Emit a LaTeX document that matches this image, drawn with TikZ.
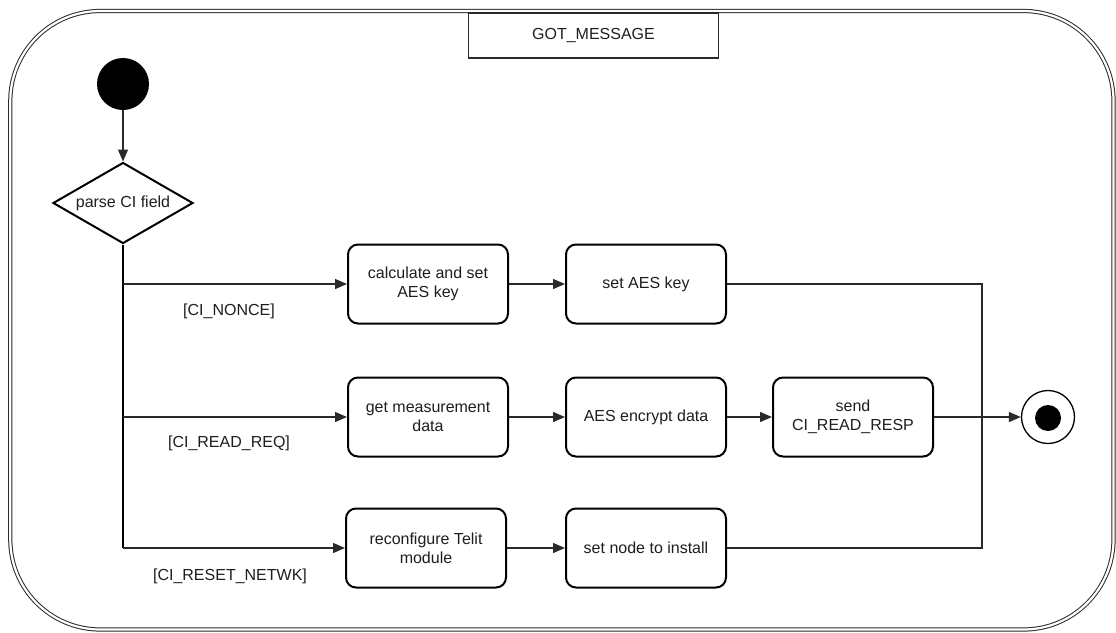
\documentclass[tikz,border=0pt]{standalone}
\usepackage{fontspec}
\setmainfont{Liberation Sans}
\usetikzlibrary{shapes.geometric,arrows.meta}

\definecolor{ink}{HTML}{1E1E1E}
\definecolor{edge}{HTML}{2A2A2A}

\tikzset{
  txt/.style={font=\fontsize{16}{19}\selectfont, text=ink},
  action/.style={txt, draw=black, line width=2pt, rounded corners=10pt,
    minimum width=160pt, minimum height=79pt, align=center, inner sep=2pt},
  decision/.style={txt, draw=black, line width=2pt, diamond, aspect=1.73,
    minimum width=140pt, minimum height=81pt, inner sep=0pt},
  flow/.style={draw=edge, line width=1.3pt,
    -{Triangle[length=12pt,width=10pt]}},
  link/.style={draw=edge, line width=1.3pt},
  trunk/.style={draw=black, line width=2pt},
  guard/.style={txt},
}

\begin{document}
\begin{tikzpicture}[x=1pt,y=-1pt]
  \useasboundingbox (0,0) rectangle (1116,632);

  % composite state frame
  \draw[draw=edge, line width=1pt, double=white, double distance=2.2pt,
        rounded corners=90pt] (10.3,11) rectangle (1113.5,629.5);
  \node[txt, draw=edge, line width=1.3pt, minimum width=250pt,
        minimum height=45pt, inner sep=0pt] (title) at (593.5,35.5) {GOT\_MESSAGE};

  % initial and final pseudostates
  \node[circle, fill=black, minimum size=52pt, inner sep=0pt] (init) at (123,84) {};
  \node[circle, draw=black, line width=1.3pt, minimum size=53pt, inner sep=0pt]
        (final) at (1048,417) {};
  \node[circle, fill=black, minimum size=26pt, inner sep=0pt] (finaldot) at (1048,418) {};

  % decision
  \node[decision] (parse) at (123,203) {parse CI field};

  % actions
  \node[action] (calc)   at (428,284) {calculate and set\\AES key};
  \node[action] (setkey) at (646,284) {set AES key};
  \node[action] (meas)   at (428,417) {get measurement\\data};
  \node[action] (enc)    at (646,417) {AES encrypt data};
  \node[action] (send)   at (853,417) {send\\CI\_READ\_RESP};
  \node[action] (reconf) at (426,548) {reconfigure Telit\\module};
  \node[action] (inst)   at (646,548) {set node to install};

  % branch points on the trunk and the merge line
  \coordinate (bNonce) at (123,284);
  \coordinate (bRead)  at (123,417);
  \coordinate (bReset) at (123,548);
  \coordinate (mTop)   at (982,284);
  \coordinate (mBot)   at (982,548);

  % control flow
  \draw[flow] (init) -- (parse);
  \draw[trunk] (parse.south) -- (bReset);
  \draw[flow] (bNonce) -- (calc);
  \draw[flow] (bRead) -- (meas);
  \draw[flow] (bReset) -- (reconf);
  \draw[flow] (calc) -- (setkey);
  \draw[flow] (meas) -- (enc);
  \draw[flow] (enc) -- (send);
  \draw[flow] (reconf) -- (inst);
  \draw[link] (setkey) -- (mTop) -- (mBot) -- (inst);
  \draw[flow] (send) -- (final);

  % guards
  \node[guard] (gNonce) at (229,311) {[CI\_NONCE]};
  \node[guard] (gRead)  at (229,443) {[CI\_READ\_REQ]};
  \node[guard] (gReset) at (230,576) {[CI\_RESET\_NETWK]};
\end{tikzpicture}
\end{document}
